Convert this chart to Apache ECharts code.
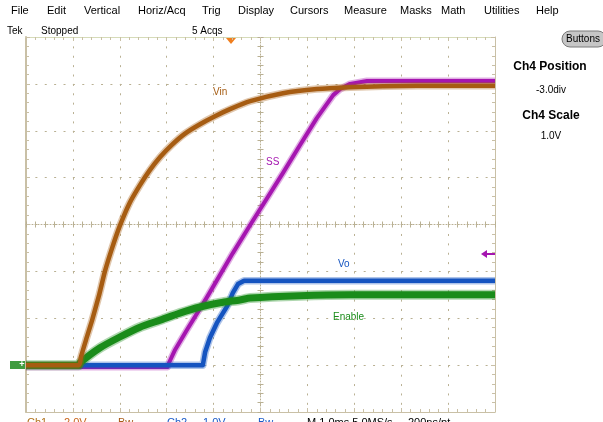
<!DOCTYPE html>
<html>
<head>
<meta charset="utf-8">
<title>scope</title>
<style>
  html, body { margin: 0; padding: 0; background: #fff; }
  #main { width: 603px; height: 422px; }
</style>
<script src="https://cdn.jsdelivr.net/npm/echarts@6/dist/echarts.min.js"></script>
</head>
<body>
<div id="main"></div>
<script>
// screen in divisions: x -5..5, y -4..4 (centre 0,0). Ch4 position -3.0div = ground
var vinX = [-5.0, -3.87, -3.83, -3.72, -3.59, -3.44, -3.32, -3.17, -3.00, -2.79, -2.57, -2.36, -2.14, -1.89, -1.61, -1.29, -0.97, -0.65, -0.22, 0.48, 1.20, 1.91, 2.61, 3.34, 4.04, 5.0];
var vinY = [-3.0, -3.0, -2.83, -2.46, -2.04, -1.50, -1.01, -0.52, -0.03, 0.46, 0.84, 1.16, 1.44, 1.70, 1.94, 2.14, 2.31, 2.46, 2.63, 2.80, 2.89, 2.93, 2.95, 2.96, 2.96, 2.96];

var ssX = [-5.0, -1.98, -1.95, -1.82, -1.57, -1.14, -0.59, -0.22, 0.48, 0.84, 1.20, 1.55, 1.70, 1.91, 2.27, 5.0];
var ssY = [-3.04, -3.04, -2.95, -2.67, -2.25, -1.55, -0.61, -0.01, 1.10, 1.69, 2.27, 2.76, 2.89, 3.00, 3.06, 3.06];

var voX = [-5.0, -1.23, -1.18, -1.08, -0.93, -0.71, -0.59, -0.48, -0.35, 5.0];
var voY = [-3.0, -3.0, -2.72, -2.42, -2.10, -1.74, -1.46, -1.27, -1.20, -1.20];

var enX = [-5.0, -3.87, -3.85, -3.42, -3.00, -2.57, -2.14, -1.72, -1.29, -0.86, -0.44, -0.22, 0.84, 1.91, 2.97, 4.04, 5.0];
var enY = [-3.0, -3.0, -2.95, -2.63, -2.40, -2.19, -2.04, -1.89, -1.76, -1.67, -1.61, -1.57, -1.52, -1.50, -1.50, -1.50, -1.50];

var menuItems = ['File', 'Edit', 'Vertical', 'Horiz/Acq', 'Trig', 'Display', 'Cursors', 'Measure', 'Masks', 'Math', 'Utilities', 'Help'];
var menuLeft = [11, 47, 84, 138, 202, 238, 290, 344, 400, 441, 484, 536];

var gridCol = '#b9b093';
var edgeCol = '#c9c0a6';

function zip(xs, ys) {
  return xs.map(function (x, i) { return [x, ys[i]]; });
}

// value axis helper for the graticule
function axis(gridIndex, position, min, max, extra) {
  var a = {
    type: 'value',
    gridIndex: gridIndex,
    position: position,
    min: min,
    max: max,
    interval: 1,
    axisLabel: { show: false },
    axisLine: { show: true, onZero: false, lineStyle: { color: edgeCol, width: 1 } },
    axisTick: { show: true, inside: true, length: 4, lineStyle: { color: edgeCol } },
    minorTick: { show: true, splitNumber: 5, length: 3, lineStyle: { color: edgeCol } },
    splitLine: { show: false }
  };
  for (var k in extra) a[k] = extra[k];
  return a;
}

var hidden = function (gridIndex, min, max) {
  return { type: 'value', gridIndex: gridIndex, min: min, max: max, show: false };
};

var centreLine = { show: true, onZero: false, lineStyle: { color: gridCol, width: 1, type: [1, 2] } };
var centreTick = { show: true, inside: true, length: 3, lineStyle: { color: gridCol } };
var centreMinor = { show: true, splitNumber: 5, length: 3, lineStyle: { color: gridCol } };

// a scope trace: fuzzy halo under a solid core
function trace(name, xs, ys, color, width, z, smooth) {
  var data = zip(xs, ys);
  return [
    {
      name: name, type: 'line', data: data, showSymbol: false, smooth: smooth, silent: true,
      lineStyle: { color: color, width: width + 3, opacity: 0.35, join: 'round' }, z: z
    },
    {
      name: name, type: 'line', data: data, showSymbol: false, smooth: smooth,
      lineStyle: { color: color, width: width, join: 'round' }, z: z + 1
    }
  ];
}

var chart = echarts.init(document.getElementById('main'));

var txt = function (text, x, y, fill, font, align) {
  return {
    type: 'text', x: x, y: y, silent: true,
    style: { text: text, fill: fill, font: font, textAlign: align || 'left', textVerticalAlign: 'middle' }
  };
};

var graphics = [];
menuItems.forEach(function (m, i) {
  graphics.push(txt(m, menuLeft[i], 11, '#000', '11px "Liberation Sans"'));
});
graphics.push(txt('Tek', 7, 31, '#000', '10px "Liberation Sans"'));
graphics.push(txt('Stopped', 41, 31, '#000', '10px "Liberation Sans"'));
graphics.push(txt('5 Acqs', 192, 31, '#000', '10px "Liberation Sans"'));
// buttons pill
graphics.push({ type: 'rect', shape: { x: 562, y: 31, width: 44, height: 16, r: 8 },
  style: { fill: '#c6c6c6', stroke: '#7a7a7a', lineWidth: 1 } });
graphics.push(txt('Buttons', 583, 39, '#000', '10px "Liberation Sans"', 'center'));
// right panel
graphics.push(txt('Ch4 Position', 550, 67, '#000', 'bold 12px "Liberation Sans"', 'center'));
graphics.push(txt('-3.0div', 551, 90, '#000', '10px "Liberation Sans"', 'center'));
graphics.push(txt('Ch4 Scale', 551, 116, '#000', 'bold 12px "Liberation Sans"', 'center'));
graphics.push(txt('1.0V', 551, 136, '#000', '10px "Liberation Sans"', 'center'));
// trace names
graphics.push(txt('Vin', 213, 92, '#a65c12', '10px "Liberation Sans"'));
graphics.push(txt('SS', 266, 162, '#a516b0', '10px "Liberation Sans"'));
graphics.push(txt('Vo', 338, 264, '#1554c0', '10px "Liberation Sans"'));
graphics.push(txt('Enable', 333, 317, '#1a8c1a', '10px "Liberation Sans"'));
// trigger position marker and trigger level arrow
graphics.push({ type: 'polygon', shape: { points: [[226, 38], [236, 38], [231, 44]] }, style: { fill: '#f07e1e' } });
graphics.push({ type: 'line', shape: { x1: 485, y1: 254, x2: 495, y2: 254 }, style: { stroke: '#a516b0', lineWidth: 2 } });
graphics.push({ type: 'polygon', shape: { points: [[481, 254], [487, 250], [487, 258]] }, style: { fill: '#a516b0' } });
// channel ground marker
graphics.push({ type: 'rect', shape: { x: 10, y: 361, width: 16, height: 8 }, style: { fill: '#3f9c3f' } });
graphics.push(txt('+', 22, 365, '#ffffff', 'bold 9px "Liberation Sans"', 'center'));
// status line (cut off at bottom)
var bottom = [['Ch1', 27, '#b07018'], ['2.0V', 64, '#c8641a'], ['Bw', 118, '#a85a18'],
  ['Ch2', 167, '#1a5ac8'], ['1.0V', 203, '#1a5ac8'], ['Bw', 258, '#1a5ac8'],
  ['M 1.0ms 5.0MS/s', 307, '#000'], ['200ns/pt', 408, '#000']];
bottom.forEach(function (b) {
  graphics.push({ type: 'text', x: b[1], y: 417, silent: true,
    style: { text: b[0], fill: b[2], font: '11px "Liberation Sans"', textAlign: 'left', textVerticalAlign: 'top' } });
});

chart.setOption({
  animation: false,
  backgroundColor: '#ffffff',
  grid: [
    { left: 26, top: 37, width: 469, height: 375 },
    { left: 26, top: 37, width: 469, height: 187.5 },
    { left: 26, top: 224.5, width: 469, height: 187.5 },
    { left: 26, top: 37, width: 234.5, height: 375 },
    { left: 260.5, top: 37, width: 234.5, height: 375 }
  ],
  xAxis: [
    axis(0, 'bottom', -5, 5, {
      splitLine: { show: true, lineStyle: { color: gridCol, width: 1, type: [2, 7.38] } }
    }),
    axis(0, 'top', -5, 5, { axisLine: { show: true, onZero: false, lineStyle: { color: '#d6dbb8', width: 1 } } }),
    axis(1, 'bottom', -5, 5, { axisLine: centreLine, axisTick: centreTick, minorTick: centreMinor }),
    axis(2, 'top', -5, 5, { axisLine: { show: false }, axisTick: centreTick, minorTick: centreMinor }),
    hidden(3, -5, 0),
    hidden(4, 0, 5)
  ],
  yAxis: [
    axis(0, 'left', -4, 4, {
      axisLine: { show: true, onZero: false, lineStyle: { color: edgeCol, width: 2 } },
      splitLine: { show: true, lineStyle: { color: gridCol, width: 1, type: [2, 7.38] } }
    }),
    axis(0, 'right', -4, 4, {}),
    hidden(1, 0, 4),
    hidden(2, -4, 0),
    axis(3, 'right', -4, 4, { axisLine: centreLine, axisTick: centreTick, minorTick: centreMinor }),
    axis(4, 'left', -4, 4, { axisLine: { show: false }, axisTick: centreTick, minorTick: centreMinor })
  ],
  graphic: graphics,
  series: [].concat(
    trace('SS', ssX, ssY, '#a516b0', 4, 2, false),
    trace('Vo', voX, voY, '#1554c0', 4.5, 4, false),
    trace('Enable', enX, enY, '#1a8c1a', 7, 6, 0.2),
    trace('Vin', vinX, vinY, '#a65c12', 4.5, 8, 0.2)
  )
});
</script>
</body>
</html>
